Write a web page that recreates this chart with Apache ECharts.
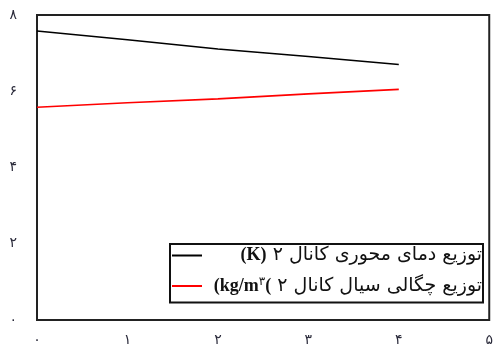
<!DOCTYPE html>
<html>
<head>
<meta charset="utf-8">
<script src="https://cdn.jsdelivr.net/npm/echarts@6/dist/echarts.min.js"></script>
<style>
html,body{margin:0;padding:0;background:#fff;}
#chart{width:496px;height:347px;}
</style>
</head>
<body>
<div id="chart"></div>
<script>
const xValues = [0, 1, 2, 3, 4];
const tempValues = [7.58, 7.35, 7.11, 6.91, 6.70];
const densityValues = [5.58, 5.70, 5.80, 5.93, 6.05];
const persianDigits = ['۰','۱','۲','۳','۴','۵','۶','۷','۸','۹'];
const seriesNames = ['temp', 'density'];
const legendLabels = {
  temp: '{b|(K)}{r| ۲ توزیع دمای محوری کانال}',
  density: '{b|(kg/m}{s|۳}{b|(}{r| ۲ توزیع چگالی سیال کانال}'
};
function toPersian(v){ return String(v).split('').map(c => /[0-9]/.test(c) ? persianDigits[+c] : c).join(''); }

const chart = echarts.init(document.getElementById('chart'), null, {renderer:'canvas'});
const font = "'Liberation Serif', 'DejaVu Sans', serif";
chart.setOption({
  animation: false,
  grid: {left: 37, right: 2, top: 15, bottom: 27, show: true, borderColor: '#222', borderWidth: 2},
  xAxis: {
    type: 'value', min: 0, max: 5, interval: 1,
    axisLine: {show: false}, axisTick: {show: false}, splitLine: {show: false},
    axisLabel: {formatter: v => toPersian(v), color: '#2a2a3a', fontSize: 14, fontFamily: "'DejaVu Sans'", margin: 13, showMaxLabel: true}
  },
  yAxis: {
    type: 'value', min: 0, max: 8, interval: 2,
    axisLine: {show: false}, axisTick: {show: false}, splitLine: {show: false},
    axisLabel: {formatter: v => toPersian(v), color: '#2a2a3a', fontSize: 14, fontFamily: "'DejaVu Sans'", margin: 20}
  },
  legend: {
    orient: 'vertical', left: 170, top: 244,
    borderColor: '#111', borderWidth: 2, padding: [2, 1, 7, 2],
    itemWidth: 30, itemHeight: 2, itemGap: 11,
    icon: 'rect',
    formatter: name => legendLabels[name],
    textStyle: {
      width: 275, color: '#111', fontSize: 15, fontFamily: font,
      rich: {
        r: {align: 'right', fontSize: 19, fontFamily: "'DejaVu Sans'", color: '#111', height: 20},
        b: {align: 'right', fontSize: 18, fontFamily: "'Liberation Serif'", color: '#111', fontWeight: 'bold', height: 20},
        s: {align: 'right', fontSize: 12, fontFamily: "'DejaVu Sans'", color: '#111', verticalAlign: 'top', padding: [0,0,8,0]}
      }
    },
    data: seriesNames
  },
  series: [
    {name: seriesNames[0], type: 'line', data: xValues.map((x,i)=>[x, tempValues[i]]), showSymbol: false, lineStyle: {color: '#000', width: 1.6}, itemStyle: {color: '#000'}},
    {name: seriesNames[1], type: 'line', data: xValues.map((x,i)=>[x, densityValues[i]]), showSymbol: false, lineStyle: {color: '#f00', width: 1.6}, itemStyle: {color: '#f00'}}
  ]
});
</script>
</body>
</html>
